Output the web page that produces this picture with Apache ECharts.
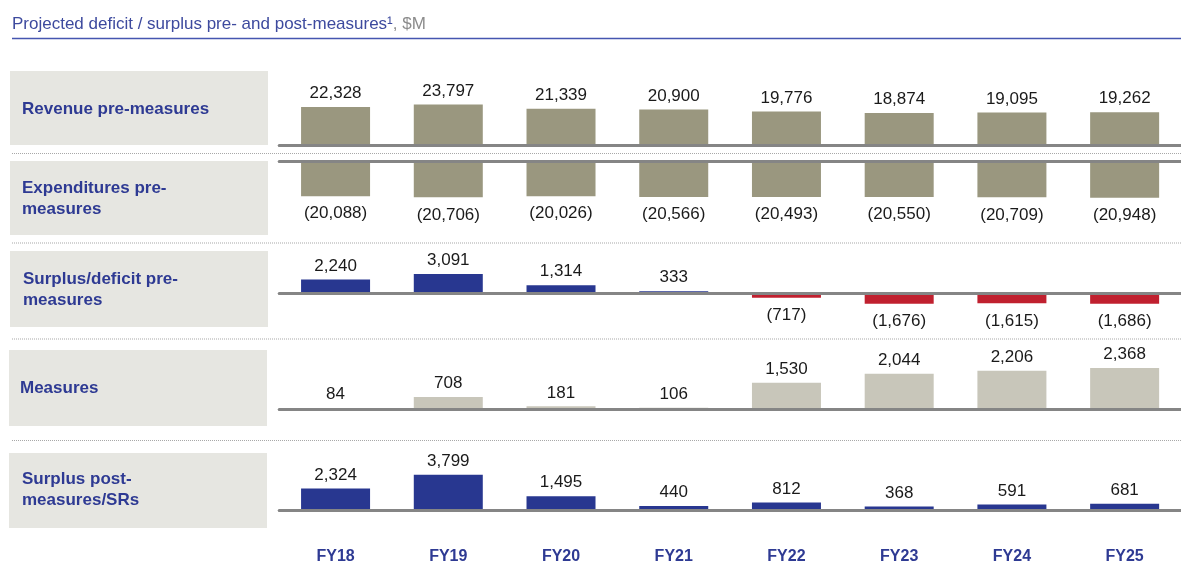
<!DOCTYPE html>
<html>
<head>
<meta charset="utf-8">
<script src="https://cdn.jsdelivr.net/npm/echarts@6/dist/echarts.min.js"></script>
<style>
  html, body { margin: 0; padding: 0; background: #fff; }
  #chart { width: 1181px; height: 565px; }
</style>
</head>
<body>
<div id="chart"></div>
<script>
// 数据
var categories = ['FY18', 'FY19', 'FY20', 'FY21', 'FY22', 'FY23', 'FY24', 'FY25']
var revenuePre = [22328, 23797, 21339, 20900, 19776, 18874, 19095, 19262]
var expenditurePre = [-20088, -20706, -20026, -20566, -20493, -20550, -20709, -20948]
var surplusPre = [2240, 3091, 1314, 333, -717, -1676, -1615, -1686]
var measures = [84, 708, 181, 106, 1530, 2044, 2206, 2368]
var surplusPost = [2324, 3799, 1495, 440, 812, 368, 591, 681]
var rowLabels = ['Revenue pre-measures', 'Expenditures pre-\nmeasures', 'Surplus/deficit pre-\nmeasures', 'Measures', 'Surplus post-\nmeasures/SRs']

var FONT = 'Arial, "Liberation Sans", sans-serif'
var BLUE_TEXT = '#2e3a93'

// 每个面板：零线位置、取值范围、每像素数值
var panels = [
  { data: revenuePre, zeroY: 145.5, min: 0, max: 30000, upp: 580, color: '#9a977f' },
  { data: expenditurePre, zeroY: 161, min: -30000, max: 0, upp: 570, color: '#9a977f' },
  { data: surplusPre, zeroY: 293.3, min: -3000, max: 4000, upp: 161, color: null },
  { data: measures, zeroY: 409.5, min: 0, max: 3000, upp: 57, color: '#c8c6ba' },
  { data: surplusPost, zeroY: 510.3, min: 0, max: 4500, upp: 107, color: '#283790' }
]

// 左侧标签框
var boxes = [
  { x: 10, y: 71, h: 74, ty: 109, tx: 22 },
  { x: 10, y: 161, h: 74, ty: 199, tx: 22 },
  { x: 10, y: 251, h: 76, ty: 289.5, tx: 23 },
  { x: 9, y: 350, h: 76, ty: 388, tx: 20 },
  { x: 9, y: 453, h: 75, ty: 490, tx: 22 }
]
var dottedY = [153.5, 243, 339, 440.5]

function fmt(v) {
  var s = Math.abs(v).toLocaleString('en-US')
  return v < 0 ? '(' + s + ')' : s
}

var grids = []
var xAxes = []
var yAxes = []
var series = []

panels.forEach(function (p, i) {
  var height = (p.max - p.min) / p.upp
  var top = p.zeroY - p.max / p.upp
  grids.push({ left: 279.2, width: 914.2, top: top, height: height })
  var last = i === panels.length - 1
  xAxes.push({
    type: 'category',
    gridIndex: i,
    data: categories,
    z: 5,
    axisLine: { show: true, onZero: true, lineStyle: { color: '#858585', width: 3 } },
    axisTick: { show: false },
    splitLine: { show: false },
    axisLabel: {
      show: last,
      margin: 39,
      color: BLUE_TEXT,
      fontFamily: FONT,
      fontWeight: 'bold',
      fontSize: 16
    }
  })
  yAxes.push({
    type: 'value',
    gridIndex: i,
    min: p.min,
    max: p.max,
    show: false,
    splitLine: { show: false }
  })
  series.push({
    type: 'bar',
    xAxisIndex: i,
    yAxisIndex: i,
    barWidth: 69,
    data: p.data.map(function (v) {
      return {
        value: v,
        itemStyle: { color: p.color || (v < 0 ? '#c0202f' : '#283790') },
        label: {
          position: v < 0 ? 'bottom' : 'top',
          distance: v < 0 ? 9 : 5
        }
      }
    }),
    label: {
      show: true,
      color: '#1a1a1a',
      fontFamily: FONT,
      fontSize: 17,
      formatter: function (params) {
        return fmt(params.value)
      }
    },
    animation: false
  })
})

var graphics = []
// 标题
graphics.push({
  type: 'text',
  left: 12,
  top: 16,
  style: {
    text: '{a|Projected deficit / surplus pre- and post-measures¹}{b|, $M}',
    font: '17px ' + FONT,
    rich: {
      a: { fill: '#3d4a9e', font: '17px ' + FONT },
      b: { fill: '#8c8c8c', font: '17px ' + FONT }
    }
  }
})
graphics.push({
  type: 'line',
  shape: { x1: 12, y1: 38.5, x2: 1181, y2: 38.5 },
  style: { stroke: '#4656b0', lineWidth: 1.5 }
})
dottedY.forEach(function (y) {
  graphics.push({
    type: 'line',
    shape: { x1: 12, y1: y, x2: 1181, y2: y },
    style: { stroke: '#a8a8a8', lineWidth: 1, lineDash: [1, 1] }
  })
})
boxes.forEach(function (b, i) {
  graphics.push({
    type: 'rect',
    shape: { x: b.x, y: b.y, width: 258, height: b.h },
    style: { fill: '#e6e6e1' }
  })
  graphics.push({
    type: 'text',
    x: b.tx,
    y: b.ty,
    style: {
      text: rowLabels[i],
      fill: BLUE_TEXT,
      font: 'bold 17px ' + FONT,
      lineHeight: 21,
      verticalAlign: 'middle',
      textVerticalAlign: 'middle'
    }
  })
})

var chart = echarts.init(document.getElementById('chart'))
chart.setOption({
  backgroundColor: '#fff',
  animation: false,
  grid: grids,
  xAxis: xAxes,
  yAxis: yAxes,
  series: series,
  graphic: graphics
})
</script>
</body>
</html>
